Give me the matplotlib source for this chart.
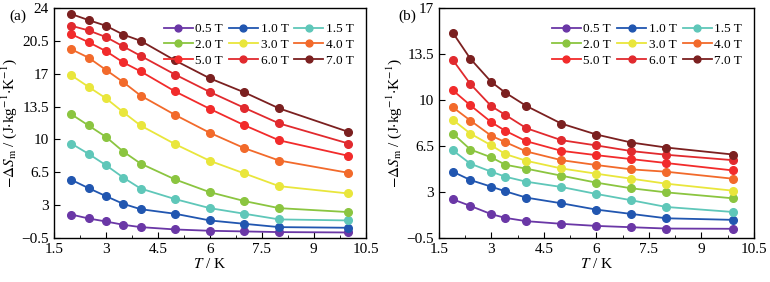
import numpy as np
import matplotlib
matplotlib.use('Agg')
import matplotlib.pyplot as plt
from matplotlib.ticker import MultipleLocator, FuncFormatter

plt.rcParams['font.family'] = ['Liberation Serif', 'DejaVu Serif']
plt.rcParams['mathtext.fontset'] = 'stix'

fields = ['0.5 T', '1.0 T', '1.5 T', '2.0 T', '3.0 T', '4.0 T', '5.0 T', '6.0 T', '7.0 T']
colors = ['#6a37a6', '#2156b0', '#5fc7b9', '#8bc540', '#e9e63c',
          '#f26a2b', '#f22b2b', '#e12a2e', '#7b2020']

# panel (a)
T_a = [2.0, 2.5, 3.0, 3.5, 4.0, 5.0, 6.0, 7.0, 8.0, 10.0]
dS_a = [
    [2.0, 1.58, 1.26, 0.91, 0.66, 0.41, 0.27, 0.20, 0.13, 0.09],
    [5.7, 4.81, 3.96, 3.14, 2.57, 2.08, 1.37, 1.01, 0.66, 0.59],
    [9.56, 8.46, 7.26, 5.94, 4.77, 3.64, 2.68, 2.08, 1.48, 1.37],
    [12.68, 11.48, 10.27, 8.71, 7.43, 5.73, 4.38, 3.43, 2.68, 2.26],
    [16.83, 15.59, 14.38, 12.9, 11.48, 9.49, 7.72, 6.37, 5.02, 4.24],
    [19.6, 18.7, 17.4, 16.1, 14.67, 12.6, 10.7, 9.06, 7.75, 6.44],
    [21.2, 20.35, 19.4, 18.2, 17.25, 15.1, 13.25, 11.5, 9.9, 8.25],
    [22.1, 21.6, 20.9, 19.9, 18.9, 16.9, 15.05, 13.35, 11.7, 9.56],
    [23.35, 22.7, 22.1, 21.16, 20.5, 18.4, 16.5, 15.0, 13.3, 10.8],
]

# panel (b)
T_b = [1.9, 2.4, 3.0, 3.4, 4.0, 5.0, 6.0, 7.0, 8.0, 9.9]
dS_b = [
    [2.44, 1.94, 1.31, 1.03, 0.78, 0.58, 0.42, 0.32, 0.22, 0.20],
    [4.54, 3.91, 3.40, 3.05, 2.57, 2.14, 1.66, 1.33, 1.00, 0.88],
    [6.16, 5.15, 4.54, 4.16, 3.78, 3.38, 2.85, 2.37, 1.86, 1.48],
    [7.44, 6.23, 5.63, 5.07, 4.77, 4.24, 3.71, 3.28, 2.97, 2.52],
    [8.48, 7.44, 6.54, 5.88, 5.37, 4.79, 4.39, 4.01, 3.63, 3.10],
    [9.44, 8.43, 7.27, 6.79, 6.08, 5.42, 5.05, 4.72, 4.54, 4.01],
    [10.73, 9.59, 8.30, 7.65, 6.86, 6.13, 5.80, 5.50, 5.20, 4.64],
    [13.03, 11.21, 9.52, 8.86, 7.85, 6.94, 6.54, 6.11, 5.83, 5.42],
    [15.1, 13.13, 11.36, 10.55, 9.54, 8.20, 7.37, 6.76, 6.38, 5.85],
]

fig = plt.figure(figsize=(7.7, 2.82), dpi=100)
ax_a = fig.add_axes([0.070, 0.156, 0.405, 0.816])
ax_b = fig.add_axes([0.570, 0.156, 0.409, 0.816])

fmt = FuncFormatter(lambda v, p: ('%g' % v).replace('-', '\u2212'))
order = [0, 3, 6, 1, 4, 7, 2, 5, 8]  # legend fills by column, want rows

for ax, T, data, ymax in [(ax_a, T_a, dS_a, 24), (ax_b, T_b, dS_b, 17)]:
    lines = []
    for lab, c, y in zip(fields, colors, data):
        ln, = ax.plot(T, y, '-o', color=c, lw=1.3, ms=5.5, mec=c, mfc=c, label=lab)
        lines.append(ln)
    ax.set_xlim(1.5, 10.5)
    ax.set_ylim(-0.5, ymax)
    ax.xaxis.set_major_locator(MultipleLocator(1.5))
    ax.xaxis.set_minor_locator(MultipleLocator(0.75))
    ax.set_yticks(np.arange(-0.5, ymax + 0.1, 3.5))
    ax.xaxis.set_major_formatter(fmt)
    ax.yaxis.set_major_formatter(fmt)
    ax.tick_params(direction='in', which='both', labelsize=11, top=False, right=False)
    ax.tick_params(which='major', length=4)
    ax.tick_params(which='minor', length=2)
    ax.set_xlabel(r'$T$ / K', fontsize=11, labelpad=1)
    ax.set_ylabel(r'$-\Delta S_{\rm m}$ / (J$\cdot$kg$^{-1}$$\cdot$K$^{-1}$)', fontsize=11, labelpad=2)
    ax.legend([lines[i] for i in order], [fields[i] for i in order],
              ncol=3, loc='upper right', frameon=False, fontsize=9.5, handlelength=2.2,
              handletextpad=0.2, columnspacing=0.45, labelspacing=0.25,
              markerscale=0.9, bbox_to_anchor=(1.0, 0.985))
    for s in ax.spines.values():
        s.set_linewidth(1.0)

fig.text(0.012, 0.93, '(a)', fontsize=11)
fig.text(0.517, 0.93, '(b)', fontsize=11)

fig.savefig('out.png', dpi=100)
